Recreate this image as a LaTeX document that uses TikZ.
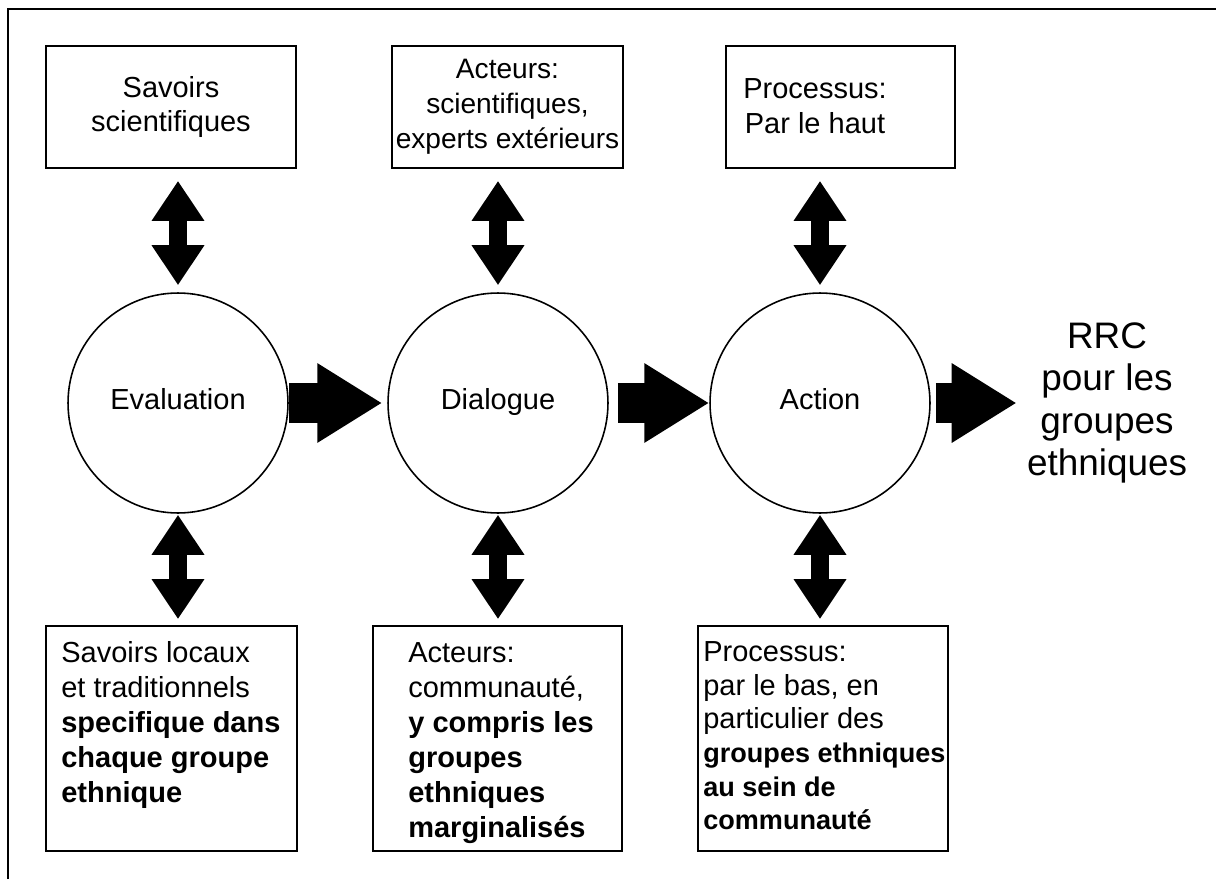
\documentclass[tikz,border=0pt]{standalone}
\usepackage{fontspec}
\setmainfont{Liberation Sans}
\usetikzlibrary{arrows.meta}

\begin{document}
\begin{tikzpicture}[x=0.02cm, y=-0.02cm,
    boite/.style={draw, line width=1pt, minimum height=2.44cm, inner sep=0pt, align=center, font=\fontsize{16.5}{19.9}\selectfont},
    rond/.style={circle, draw, line width=0.9pt, minimum size=4.4cm, inner sep=0pt, text height=0.92em, text depth=0.2em, font=\fontsize{16.5}{19.9}\selectfont},
    texte/.style={inner sep=0pt, align=left, anchor=north west, font=\fontsize{16.5}{19.9}\selectfont},
    dbl/.style={line width=0.36cm, {Triangle[length=0.8cm,width=1cm]}-{Triangle[length=0.8cm,width=1cm]}},
    gros/.style={line width=0.8cm, -{Triangle[length=1.3cm,width=1.5cm]}}]
    \useasboundingbox (0,0) rectangle (1216,879);
    \draw[line width=1.2pt] (8,879) -- (8,9) -- (1216,9);

    % boites du haut
    \node[boite, minimum width=5cm] (sav) at (171,107) {Savoirs\\scientifiques};
    \node[boite, minimum width=4.62cm, font=\fontsize{16}{19.9}\selectfont] (actsci) at (507.5,107) {Acteurs:\\scientifiques,\\experts extérieurs};
    \node[boite, minimum width=4.58cm] (prohaut) at (840.5,107) {};
    \node[inner sep=0pt, align=center, font=\fontsize{16.5}{19.9}\selectfont] (prohautt) at (815,106) {Processus:\\Par le haut};

    % cercles
    \node[rond] (eval) at (178,403) {Evaluation};
    \node[rond] (dial) at (498,403) {Dialogue};
    \node[rond] (act) at (820,403) {Action};
    \node[inner sep=0pt, align=center, font=\fontsize{21}{24}\selectfont] (rrc) at (1107,403) {RRC\\pour les\\groupes\\ethniques};

    % boites du bas
    \node[boite, minimum width=5.02cm, minimum height=4.5cm] (loc) at (171.5,738.5) {};
    \node[boite, minimum width=4.98cm, minimum height=4.5cm] (comm) at (497.5,738.5) {};
    \node[boite, minimum width=5cm, minimum height=4.5cm] (probas) at (823,738.5) {};
    \node[texte] (loct) at (61,641) {Savoirs locaux\\et traditionnels\\\textbf{specifique dans}\\\textbf{chaque groupe}\\\textbf{ethnique}};
    \node[texte] (commt) at (408,642) {Acteurs:\\communauté,\\\textbf{y compris les}\\\textbf{groupes}\\\textbf{ethniques}\\\textbf{marginalisés}};
    \node[texte, font=\fontsize{16.5}{19.2}\selectfont] (probast) at (703,641) {Processus:\\par le bas, en\\particulier des\\\fontsize{15.4}{19.2}\selectfont\textbf{groupes ethniques}\\\fontsize{15.4}{19.2}\selectfont\textbf{au sein de}\\\fontsize{15.4}{19.2}\selectfont\textbf{communauté}};

    % fleches doubles
    \draw[dbl, shorten <=0.14cm, shorten >=0.24cm] (eval.north) -- (eval.north |- sav.south);
    \draw[dbl, shorten <=0.14cm, shorten >=0.24cm] (dial.north) -- (dial.north |- actsci.south);
    \draw[dbl, shorten <=0.14cm, shorten >=0.24cm] (act.north) -- (act.north |- prohaut.south);
    \draw[dbl, shorten <=0.02cm, shorten >=0.12cm] (eval.south) -- (eval.south |- loc.north);
    \draw[dbl, shorten <=0.02cm, shorten >=0.12cm] (dial.south) -- (dial.south |- comm.north);
    \draw[dbl, shorten <=0.02cm, shorten >=0.12cm] (act.south) -- (act.south |- probas.north);

    % grosses fleches
    \draw[gros, shorten >=0.1cm] (eval) -- (dial);
    \draw[gros, shorten <=0.18cm] (dial) -- (act);
    \draw[gros, shorten <=0.1cm, shorten >=0.2cm] (act) -- (rrc);
\end{tikzpicture}
\end{document}
